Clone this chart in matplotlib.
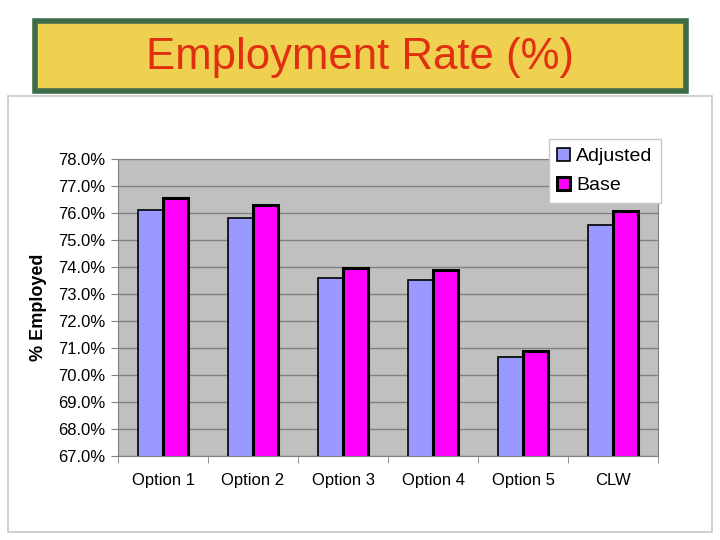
import numpy as np
import matplotlib.pyplot as plt
from matplotlib.patches import Rectangle
from matplotlib.ticker import FuncFormatter, MultipleLocator

# values (%)
categories = ["Option 1", "Option 2", "Option 3", "Option 4", "Option 5", "CLW"]
adjusted = [76.11, 75.80, 73.58, 73.53, 70.68, 75.55]
base = [76.54, 76.30, 73.95, 73.90, 70.88, 76.06]

plt.rcParams['font.family'] = ['Liberation Sans', 'DejaVu Sans']

fig = plt.figure(figsize=(7.2, 5.4), dpi=100)
fig.patch.set_facecolor('white')

# title banner
fig.patches.append(Rectangle((35 / 720, 1 - 91 / 540), 651 / 720, 70 / 540,
                             transform=fig.transFigure, facecolor='#F0D050',
                             edgecolor='#3E6B48', linewidth=4, zorder=-2))
fig.text(0.5, 1 - 57 / 540, "Employment Rate (%)", ha='center', va='center',
         fontsize=31.5, color='#E03010')

# chart area border
fig.patches.append(Rectangle((8 / 720, 1 - 532 / 540), 704 / 720, 436 / 540,
                             transform=fig.transFigure, facecolor='white',
                             edgecolor='#C8C8C8', linewidth=1.2, zorder=-2))

ax = fig.add_axes([118 / 720, 1 - 456 / 540, 540 / 720, 297 / 540])
ax.set_facecolor('#C0C0C0')

x = np.arange(len(categories))
w = 0.28
ax.bar(x - w / 2, adjusted, w, color='#9999FF', edgecolor='black',
       linewidth=1.2, label='Adjusted', zorder=3)
ax.bar(x + w / 2, base, w, color='#FF00FF', edgecolor='black',
       linewidth=2.2, label='Base', zorder=3)

ax.set_xlim(-0.5, len(categories) - 0.5)
ax.set_ylim(67, 78)
ax.yaxis.set_major_locator(MultipleLocator(1))
ax.yaxis.set_major_formatter(FuncFormatter(lambda v, p: f"{v:.1f}%"))
ax.grid(axis='y', color='#808080', linewidth=1, zorder=1)

ax.set_xticks(x)
ax.set_xticklabels(categories, fontsize=12)
ax.set_xticks(np.arange(len(categories) + 1) - 0.5, minor=True)
ax.tick_params(axis='x', which='major', length=0, pad=12)
ax.tick_params(axis='x', which='minor', length=5, color='#808080')
ax.tick_params(axis='y', labelsize=12, length=5, color='#808080', pad=4)

for s in ax.spines.values():
    s.set_color('#808080')

ax.set_ylabel("% Employed", fontsize=13, fontweight='bold', labelpad=8)

leg = ax.legend(loc='upper right', bbox_to_anchor=(661 / 720, 1 - 139 / 540),
                bbox_transform=fig.transFigure, fontsize=14, frameon=True,
                fancybox=False, framealpha=1, handlelength=0.65,
                handleheight=0.65, handletextpad=0.3, borderpad=0.45,
                labelspacing=0.6, borderaxespad=0)
leg.get_frame().set_edgecolor('#C8C8C8')
leg.get_frame().set_linewidth(1)

fig.savefig('out.png', dpi=100)
